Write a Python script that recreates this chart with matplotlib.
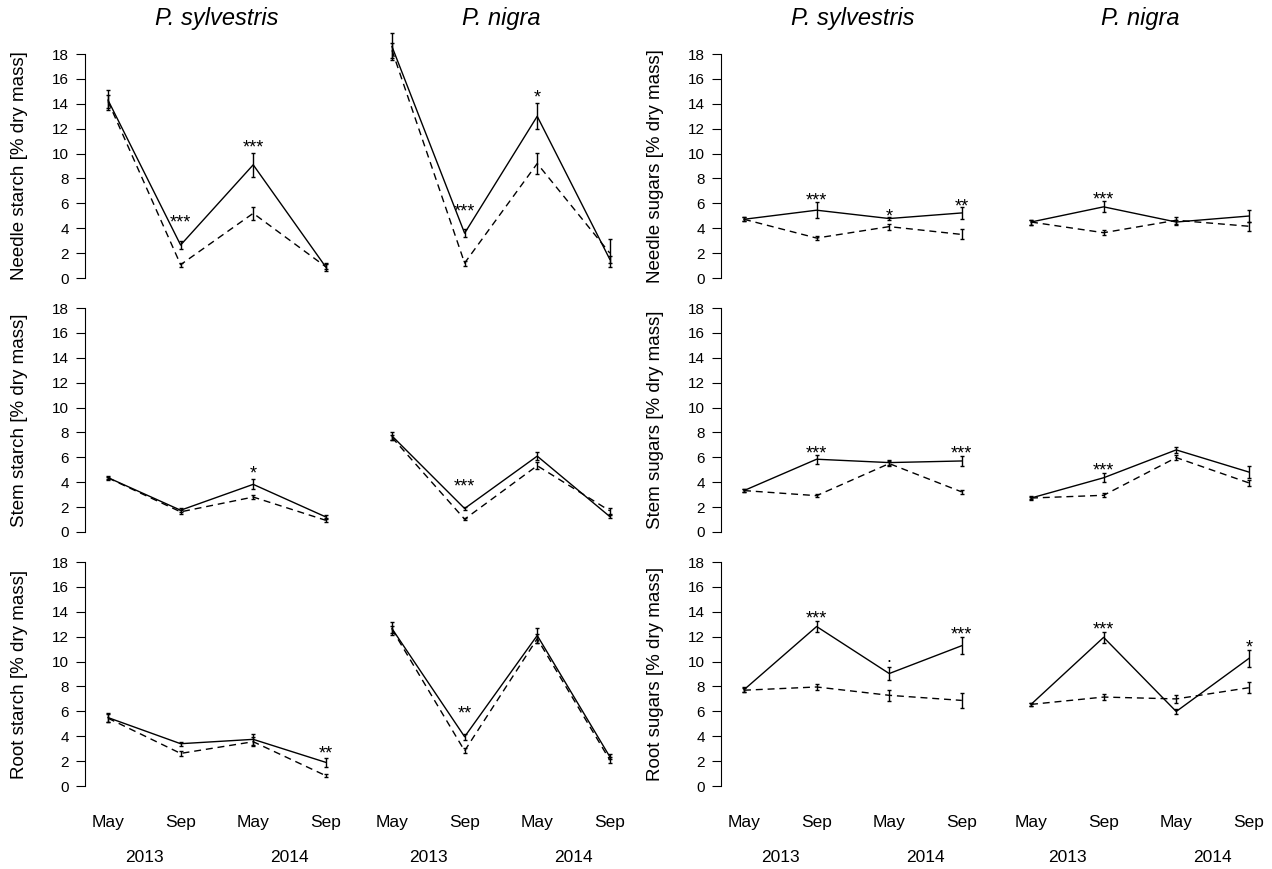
import matplotlib
matplotlib.use('Agg')
import matplotlib.pyplot as plt
from matplotlib.transforms import blended_transform_factory

plt.rcParams['font.family'] = ['Liberation Sans', 'DejaVu Sans']

months = ['May', 'Sep', 'May', 'Sep']
years = ['2013', '2014']
species = ['P. sylvestris', 'P. nigra', 'P. sylvestris', 'P. nigra']
row_labels = [['Needle starch [% dry mass]', 'Stem starch [% dry mass]', 'Root starch [% dry mass]'],
              ['Needle sugars [% dry mass]', 'Stem sugars [% dry mass]', 'Root sugars [% dry mass]']]

# rows: needle, stem, root ; values for May13, Sep13, May14, Sep14
starch_syl_solid = [[14.3, 2.65, 9.1, 0.88], [4.37, 1.75, 3.83, 1.21], [5.5, 3.4, 3.75, 1.9]]
starch_syl_solid_se = [[0.8, 0.3, 0.95, 0.3], [0.15, 0.15, 0.4, 0.15], [0.35, 0.15, 0.45, 0.35]]
starch_syl_dash = [[14.2, 1.07, 5.2, 0.9], [4.35, 1.62, 2.81, 0.94], [5.45, 2.62, 3.56, 0.83]]
starch_syl_dash_se = [[0.5, 0.15, 0.5, 0.2], [0.1, 0.15, 0.15, 0.15], [0.3, 0.2, 0.35, 0.1]]

starch_nig_solid = [[18.6, 3.6, 13.0, 1.5], [7.72, 1.89, 6.1, 1.24], [12.65, 3.96, 12.1, 2.35]]
starch_nig_solid_se = [[1.1, 0.3, 1.05, 0.3], [0.35, 0.15, 0.3, 0.15], [0.5, 0.25, 0.6, 0.2]]
starch_nig_dash = [[18.3, 1.2, 9.2, 2.0], [7.6, 1.03, 5.33, 1.7], [12.6, 2.83, 11.84, 2.09]]
starch_nig_dash_se = [[0.6, 0.2, 0.85, 1.1], [0.2, 0.1, 0.3, 0.25], [0.3, 0.2, 0.35, 0.25]]

sugar_syl_solid = [[4.72, 5.45, 4.78, 5.23], [3.33, 5.85, 5.58, 5.71], [7.74, 12.82, 9.04, 11.28]]
sugar_syl_solid_se = [[0.15, 0.65, 0.1, 0.5], [0.15, 0.35, 0.2, 0.4], [0.2, 0.45, 0.55, 0.7]]
sugar_syl_dash = [[4.72, 3.21, 4.13, 3.5], [3.33, 2.92, 5.5, 3.22], [7.7, 7.96, 7.29, 6.88]]
sugar_syl_dash_se = [[0.15, 0.15, 0.25, 0.4], [0.1, 0.1, 0.2, 0.15], [0.15, 0.25, 0.45, 0.6]]

sugar_nig_solid = [[4.5, 5.72, 4.5, 4.98], [2.73, 4.36, 6.6, 4.82], [6.56, 11.95, 5.99, 10.25]]
sugar_nig_solid_se = [[0.2, 0.45, 0.2, 0.5], [0.15, 0.35, 0.25, 0.45], [0.1, 0.45, 0.2, 0.7]]
sugar_nig_dash = [[4.5, 3.64, 4.64, 4.16], [2.73, 2.95, 5.98, 3.95], [6.56, 7.15, 7.0, 7.9]]
sugar_nig_dash_se = [[0.2, 0.2, 0.3, 0.35], [0.1, 0.15, 0.2, 0.25], [0.1, 0.25, 0.3, 0.45]]

# significance labels and their heights
starch_syl_sig = [['', '***', '***', ''], ['', '', '*', ''], ['', '', '', '**']]
starch_syl_sig_y = [[0, 4.8, 10.8, 0], [0, 0, 5.0, 0], [0, 0, 0, 2.94]]
starch_nig_sig = [['', '***', '*', ''], ['', '***', '', ''], ['', '**', '', '']]
starch_nig_sig_y = [[0, 5.7, 14.8, 0], [0, 3.97, 0, 0], [0, 6.15, 0, 0]]
sugar_syl_sig = [['', '***', '*', '**'], ['', '***', '', '***'], ['', '***', '.', '***']]
sugar_syl_sig_y = [[0, 6.58, 5.3, 6.1], [0, 6.66, 0, 6.6], [0, 13.8, 10.1, 12.47]]
sugar_nig_sig = [['', '***', '', ''], ['', '***', '', ''], ['', '***', '', '*']]
sugar_nig_sig_y = [[0, 6.64, 0, 0], [0, 5.3, 0, 0], [0, 12.9, 0, 11.47]]

columns = [
    (starch_syl_solid, starch_syl_solid_se, starch_syl_dash, starch_syl_dash_se, starch_syl_sig, starch_syl_sig_y),
    (starch_nig_solid, starch_nig_solid_se, starch_nig_dash, starch_nig_dash_se, starch_nig_sig, starch_nig_sig_y),
    (sugar_syl_solid, sugar_syl_solid_se, sugar_syl_dash, sugar_syl_dash_se, sugar_syl_sig, sugar_syl_sig_y),
    (sugar_nig_solid, sugar_nig_solid_se, sugar_nig_dash, sugar_nig_dash_se, sugar_nig_sig, sugar_nig_sig_y),
]

W, H = 1272, 869
fig = plt.figure(figsize=(W / 100, H / 100), dpi=100)


def fx(px):
    return px / W


def fy(py):
    return 1 - py / H


x = [1, 2, 3, 4]
col_left = [85, 369, 721, 1008]
row_zero = [278, 532, 786]
unit_x, unit_y = 72.6, 12.44
xmin, xmax = 0.683, 4.3
ymin, ymax = -0.7, 18.7

for c, (sol, sol_se, dsh, dsh_se, sig, sig_y) in enumerate(columns):
    for r in range(3):
        w = (xmax - xmin) * unit_x
        h = (ymax - ymin) * unit_y
        bottom = row_zero[r] - ymin * unit_y
        ax = fig.add_axes([fx(col_left[c]), fy(bottom), w / W, h / H])
        ax.set_xlim(xmin, xmax)
        ax.set_ylim(ymin, ymax)
        for s in ['top', 'right', 'bottom']:
            ax.spines[s].set_visible(False)
        ax.set_xticks([])
        if c in (0, 2):
            ax.spines['left'].set_bounds(0, 18)
            ax.spines['left'].set_linewidth(0.8)
            ax.set_yticks(range(0, 19, 2))
            ax.tick_params(axis='y', length=6.5, width=0.8, pad=5, labelsize=11)
            fig.text(fx(col_left[c] - 65), fy(row_zero[r] - 9 * unit_y), row_labels[c // 2][r],
                     rotation=90, ha='center', va='center', fontsize=13.5)
        else:
            ax.spines['left'].set_visible(False)
            ax.set_yticks([])

        ax.errorbar(x, dsh[r], yerr=dsh_se[r], color='black', lw=1.0, dashes=(5, 3.5),
                    capsize=1.7, elinewidth=1.0, capthick=1.0, clip_on=False)
        ax.errorbar(x, sol[r], yerr=sol_se[r], color='black', lw=1.0,
                    capsize=1.7, elinewidth=1.0, capthick=1.0, clip_on=False)

        for i, lab in enumerate(sig[r]):
            if lab:
                off = -6.5 if '*' in lab else -1.0
                ax.annotate(lab, (x[i], sig_y[r][i]), xytext=(0, off), textcoords='offset points',
                            ha='center', va='baseline', fontsize=13)

        if r == 0:
            tr = blended_transform_factory(ax.transData, fig.transFigure)
            ax.text(2.5, fy(18), species[c], transform=tr, ha='center', va='center',
                    fontsize=17, fontstyle='italic')
        if r == 2:
            tr = blended_transform_factory(ax.transData, fig.transFigure)
            for i, m in enumerate(months):
                ax.text(x[i], fy(823), m, transform=tr, ha='center', va='center', fontsize=12.5)
            for j, yr in enumerate(years):
                ax.text(1.5 + 2 * j, fy(858), yr, transform=tr, ha='center', va='center', fontsize=12.5)

fig.savefig('out.png', dpi=100)
